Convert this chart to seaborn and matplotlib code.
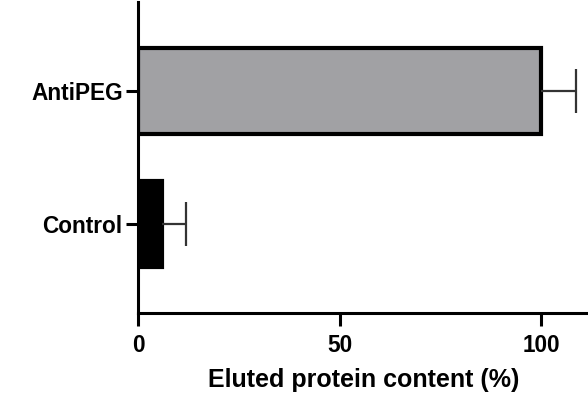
import numpy as np
import pandas as pd
import matplotlib
matplotlib.use('Agg')
import matplotlib.pyplot as plt
import seaborn as sns

groups = ['AntiPEG', 'Control']
content = [100.0, 5.9]
content_err = [8.7, 6.0]
colors = ['#a1a0a5', '#000000']

data = pd.DataFrame({'Group': groups, 'Content': content})

sns.set_style('ticks')
plt.rcParams['font.family'] = ['Liberation Sans', 'DejaVu Sans']
plt.rcParams['font.weight'] = 'bold'
plt.rcParams['text.color'] = 'black'

fig = plt.figure(figsize=(5.88, 3.95), dpi=100)
ax = fig.add_axes([0.2347, 0.2076, 0.7680, 0.7873])

sns.barplot(data=data, x='Content', y='Group', hue='Group', palette=colors,
            orient='h', width=0.65, edgecolor='black', linewidth=3,
            errorbar=None, legend=False, ax=ax)

# one-sided error bars (positive side only), drop the inner cap
ypos = ax.get_yticks()
eb = ax.errorbar(content, ypos, xerr=[np.zeros(len(content_err)), content_err],
                 fmt='none', ecolor='#333333', elinewidth=1.6, capsize=15.5,
                 capthick=1.6, zorder=1)
eb[1][0].set_visible(False)

ax.set_xlim(0, 112)
ax.set_ylim(1.67, -0.67)
ax.set_xticks([0, 50, 100])
ax.set_xlabel('Eluted protein content (%)', fontsize=18, fontweight='bold',
              color='black', labelpad=8)
ax.set_ylabel('')

for side in ['top', 'right']:
    ax.spines[side].set_visible(False)
for side in ['left', 'bottom']:
    ax.spines[side].set_linewidth(2.2)
    ax.spines[side].set_color('black')

ax.tick_params(axis='both', length=9, width=2.2, color='black',
               labelsize=16.3, labelcolor='black')
ax.tick_params(axis='y', pad=2)
ax.tick_params(axis='x', pad=6)
for lab in ax.get_xticklabels() + ax.get_yticklabels():
    lab.set_fontweight('bold')

fig.savefig('out.png', dpi=100)
